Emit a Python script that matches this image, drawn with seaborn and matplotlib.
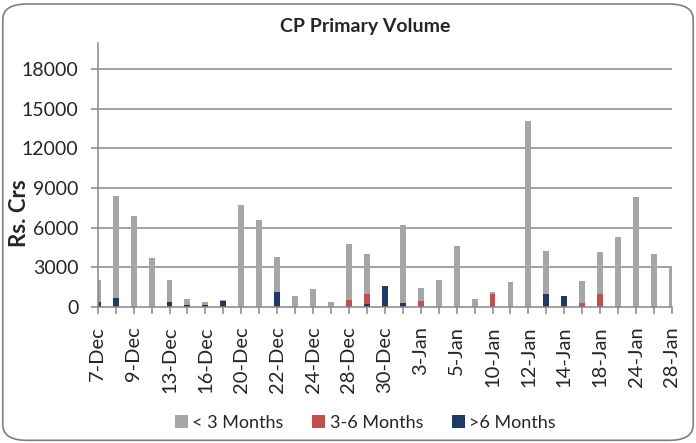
import matplotlib
matplotlib.use("Agg")
import matplotlib.pyplot as plt
import seaborn as sns
import pandas as pd
import numpy as np
from matplotlib.patches import FancyBboxPatch, Patch

dates = ["7-Dec", "8-Dec", "9-Dec", "10-Dec", "13-Dec", "14-Dec", "16-Dec", "17-Dec",
         "20-Dec", "21-Dec", "22-Dec", "23-Dec", "24-Dec", "27-Dec", "28-Dec", "29-Dec",
         "30-Dec", "31-Dec", "3-Jan", "4-Jan", "5-Jan", "6-Jan", "10-Jan", "11-Jan",
         "12-Jan", "13-Jan", "14-Jan", "17-Jan", "18-Jan", "19-Jan", "24-Jan", "25-Jan",
         "28-Jan"]
lt3 = [1690, 7700, 6900, 3680, 1690, 470, 200, 40, 7700, 6550, 2650, 800, 1330, 330,
       4260, 3070, 0, 5980, 990, 2020, 4590, 550, 120, 1860, 14120, 3280, 0, 1690,
       3150, 5290, 8290, 3960, 2900]
m3_6 = [0, 0, 0, 0, 0, 0, 0, 0, 0, 0, 0, 0, 0, 0, 480, 760, 0, 0, 450, 0, 0, 0, 960,
        0, 0, 0, 0, 250, 960, 0, 0, 0, 0]
gt6 = [330, 680, 0, 0, 330, 130, 130, 450, 0, 0, 1110, 0, 0, 0, 0, 200, 1560, 250, 0,
       0, 0, 0, 0, 0, 0, 960, 810, 0, 0, 0, 0, 0, 0]
series_names = ["< 3 Months", "3-6 Months", ">6 Months"]
colors = ["#A6A6A6", "#C0504D", "#1F3A64"]
yticks = [0, 3000, 6000, 9000, 12000, 15000, 18000]

df = pd.DataFrame({"date": dates, "lt3": lt3, "m3_6": m3_6, "gt6": gt6})
df["c_gt6"] = df["gt6"]
df["c_m36"] = df["gt6"] + df["m3_6"]
df["c_total"] = df["c_m36"] + df["lt3"]

sns.set_style("white")
plt.rcParams["font.family"] = ["Lato", "DejaVu Sans"]

fig = plt.figure(figsize=(6.96, 4.43), dpi=100)
ax = fig.add_axes([0.1404, 0.3077, 0.9655 - 0.1404, 0.903 - 0.3077])

grid_c = "#878787"
for yv in yticks[1:]:
    ax.axhline(yv, color=grid_c, lw=1.1, zorder=0)

for col, c in zip(["c_total", "c_m36", "c_gt6"], colors):
    sns.barplot(data=df, x="date", y=col, order=dates, color=c, width=0.33,
                saturation=1, ax=ax, zorder=2, edgecolor="none", linewidth=0)

ax.set_xlim(0, len(dates) - 1)
ax.set_ylim(0, 20000)
ax.set_yticks(yticks)
ax.set_yticklabels([str(v) for v in yticks], fontsize=14)
ax.set_xticks(range(len(dates)))
ax.set_xticklabels([d if i % 2 == 0 else "" for i, d in enumerate(dates)],
                   rotation=90, fontsize=14.5)
ax.tick_params(axis="both", direction="out", length=5, width=1.1, color=grid_c,
               bottom=True, left=True)
ax.tick_params(axis="x", pad=9)
ax.tick_params(axis="y", pad=9)
for s in ["top", "right"]:
    ax.spines[s].set_visible(False)
for s in ["left", "bottom"]:
    ax.spines[s].set_color(grid_c)
    ax.spines[s].set_linewidth(1.1)
ax.set_xlabel("")
ax.set_ylabel("Rs. Crs", fontsize=16, fontweight="bold")
ax.yaxis.set_label_coords(-0.118, 0.355)

fig.text(0.525, 0.94, "CP Primary Volume", ha="center", va="center",
         fontsize=14, fontweight="bold")

handles = [Patch(facecolor=c, edgecolor="none") for c in colors]
fig.legend(handles, series_names, loc="center", bbox_to_anchor=(0.525, 0.045),
           ncol=3, frameon=False, fontsize=13, handlelength=0.7, handleheight=0.7,
           handletextpad=0.25, columnspacing=1.6)

border = FancyBboxPatch((0.004, 0.006), 0.992, 0.985, transform=fig.transFigure,
                        boxstyle="round,pad=0,rounding_size=0.035",
                        facecolor="none", edgecolor="#808080", lw=1.2)
fig.patches.append(border)

fig.savefig("out.png", dpi=100)
